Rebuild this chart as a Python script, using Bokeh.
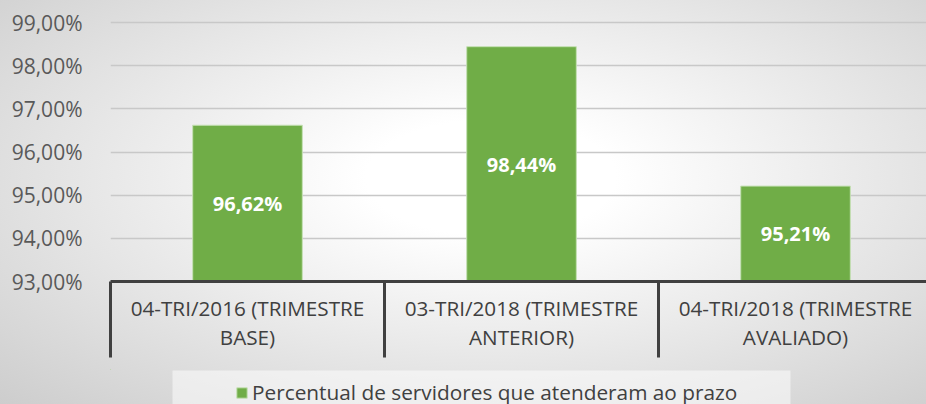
from bokeh.plotting import figure
from bokeh.layouts import column
from bokeh.models import (ColumnDataSource, Range1d, FixedTicker, Legend, LegendItem,
                          BoxAnnotation)
from bokeh.core.properties import value
from bokeh.embed import file_html
from bokeh.resources import INLINE

# ---- data ----
categories = ["04-TRI/2016 (TRIMESTRE\nBASE)",
              "03-TRI/2018 (TRIMESTRE\nANTERIOR)",
              "04-TRI/2018 (TRIMESTRE\nAVALIADO)"]
values = [96.62, 98.44, 95.21]
value_labels = ["96,62%", "98,44%", "95,21%"]
y_ticks = [93, 94, 95, 96, 97, 98, 99]
y_tick_labels = ["93,00%", "94,00%", "95,00%", "96,00%", "97,00%", "98,00%", "99,00%"]
series_name = "Percentual de servidores que atenderam ao prazo"

FONT = "Open Sans"
GREEN = "#70AD47"
BAR_EDGE = "#C5E0B4"

x_pos = [i + 0.5 for i in range(len(categories))]
y_base = 93
src = ColumnDataSource(dict(
    x=x_pos,
    top=values,
    mid=[(y_base + v) / 2 for v in values],
    lab=value_labels,
))

W = 926
H_MAIN = 369
H_LEG = 35

p = figure(width=W, height=H_MAIN, output_backend="svg", toolbar_location=None,
           x_range=Range1d(0, 2.978), y_range=Range1d(y_base, 99.51),
           min_border_left=110, min_border_right=0, min_border_top=0,
           min_border_bottom=88)
p.border_fill_alpha = 0
p.background_fill_alpha = 0
p.outline_line_color = None

bars = p.vbar(x="x", top="top", bottom=y_base, width=0.4, source=src,
              fill_color=GREEN, line_color=BAR_EDGE, line_width=1)

p.text(x="x", y="mid", text="lab", source=src, text_align="center",
       text_baseline="middle", text_color="white", text_font=value(FONT),
       text_font_size="20px", text_font_style="bold")

# y axis
p.yaxis.ticker = FixedTicker(ticks=y_ticks)
p.yaxis.major_label_overrides = {t: l for t, l in zip(y_ticks, y_tick_labels)}
p.yaxis.axis_line_color = None
p.yaxis.major_tick_line_color = None
p.yaxis.minor_tick_line_color = None
p.yaxis.major_label_standoff = 22
p.yaxis.major_label_text_font = FONT
p.yaxis.major_label_text_font_size = "21px"
p.yaxis.major_label_text_color = "#595959"

p.ygrid.ticker = FixedTicker(ticks=y_ticks)
p.ygrid.grid_line_color = "#C8C8C8"
p.ygrid.grid_line_width = 1.5
p.xgrid.grid_line_color = None

# x axis with category boxes
p.xaxis.ticker = FixedTicker(ticks=x_pos, minor_ticks=list(range(len(categories) + 1)))
p.xaxis.major_label_overrides = {x: c for x, c in zip(x_pos, categories)}
p.xaxis.axis_line_color = "#404040"
p.xaxis.axis_line_width = 3
p.xaxis.major_tick_line_color = None
p.xaxis.minor_tick_in = 0
p.xaxis.minor_tick_out = 76
p.xaxis.minor_tick_line_width = 3
p.xaxis.minor_tick_line_color = "#404040"
p.xaxis.major_label_standoff = -64
p.xaxis.major_label_text_font = FONT
p.xaxis.major_label_text_font_size = "20.7px"
p.xaxis.major_label_text_color = "#404040"
p.xaxis.major_label_text_line_height = 1.04

# ---- legend strip (same left border as the chart so frames align) ----
p2 = figure(width=W, height=H_LEG, output_backend="svg", toolbar_location=None,
            x_axis_type=None, y_axis_type=None,
            x_range=Range1d(110, W), y_range=Range1d(H_MAIN + H_LEG, H_MAIN),
            min_border_left=110, min_border_right=0, min_border_top=0,
            min_border_bottom=0)
p2.border_fill_alpha = 0
p2.background_fill_alpha = 0
p2.outline_line_color = None
p2.grid.visible = False

p2.add_layout(BoxAnnotation(left=172, right=790, top=370, bottom=H_MAIN + H_LEG + 10,
                            fill_color="white", fill_alpha=0.5, line_color=None))

# legend key: same series, drawn outside this strip's visible range
key = p2.vbar(x="x", top="top", bottom=y_base, width=0.4, source=src,
              fill_color=GREEN, line_color=BAR_EDGE, line_width=1)

legend = Legend(items=[LegendItem(label=series_name, renderers=[key])],
                location=(125, -2), orientation="horizontal",
                padding=0, margin=0, spacing=0,
                glyph_width=13, glyph_height=13, label_standoff=4,
                label_text_font=FONT, label_text_font_size="20.8px",
                label_text_color="#404040",
                border_line_color=None, background_fill_alpha=0)
p2.add_layout(legend)

layout = column(p, p2, spacing=0,
                styles={"background": "radial-gradient(ellipse farthest-corner at 53% 44%, #FFFFFF 0%, #FFFFFF 18%, #CDCDCD 100%)"})

open("out.html", "w").write(file_html(layout, INLINE))
